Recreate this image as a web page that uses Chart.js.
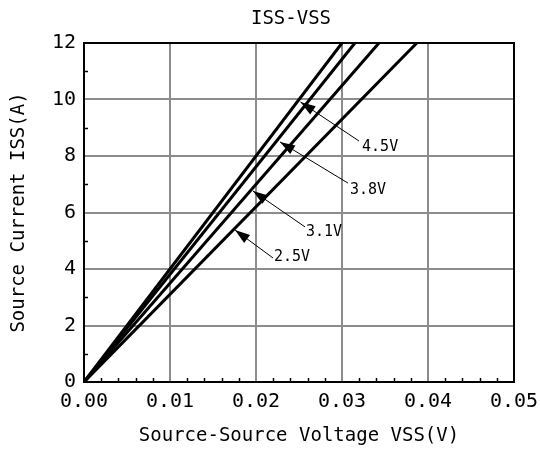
<!DOCTYPE html>
<html>
<head>
<meta charset="utf-8">
<script src="https://cdn.jsdelivr.net/npm/chart.js@4"></script>
<style>
  html, body { margin: 0; padding: 0; background: #fff; }
  #wrap { width: 540px; height: 451px; }
</style>
</head>
<body>
<div id="wrap"><canvas id="chart" width="540" height="451"></canvas></div>
<script>
// data (ISS in A, VSS in V)
const seriesLabels = ['4.5V', '3.8V', '3.1V', '2.5V'];
const issValues = [0, 12];
const vss45 = [0, 0.0300];
const vss38 = [0, 0.0315];
const vss31 = [0, 0.0343];
const vss25 = [0, 0.0387];

const xTicks = [0, 0.01, 0.02, 0.03, 0.04, 0.05];
const yTicks = [0, 2, 4, 6, 8, 10, 12];

// label arrows: tip on the curve, tail at the text (data coordinates)
const arrowTips  = [[0.02517, 9.91], [0.02279, 8.50], [0.01965, 6.76], [0.01756, 5.38]];
const arrowTails = [[0.03198, 8.53], [0.03070, 7.04], [0.02570, 5.49], [0.02198, 4.39]];
const labelPos   = [[0.03233, 8.30], [0.03093, 6.81], [0.02581, 5.31], [0.02209, 4.42]];

const FONT = '"DejaVu Sans Mono", "Liberation Mono", monospace';

function pts(xs) {
  return xs.map((x, i) => ({ x: x, y: issValues[i] }));
}

const allVss = [vss45, vss38, vss31, vss25];
const datasets = allVss.map((v, i) => ({
  label: seriesLabels[i],
  data: pts(v),
  borderColor: '#000',
  borderWidth: 3,
  pointRadius: 0,
  fill: false,
  tension: 0
}));

// frame, minor ticks, title and arrow labels
const decor = {
  id: 'decor',
  afterDatasetsDraw(chart) {
    const ctx = chart.ctx;
    const a = chart.chartArea;
    const xs = chart.scales.x, ys = chart.scales.y;
    ctx.save();

    // minor ticks
    ctx.strokeStyle = '#000';
    ctx.lineWidth = 1.5;
    ctx.beginPath();
    for (let k = 1; k < 25; k++) {
      if (k % 5 === 0) continue;
      const px = Math.round(xs.getPixelForValue(k * 0.002)) + 0.5;
      ctx.moveTo(px, a.bottom);
      ctx.lineTo(px, a.bottom - 4);
    }
    for (let k = 1; k < 12; k += 2) {
      const py = Math.round(ys.getPixelForValue(k)) + 0.5;
      ctx.moveTo(a.left, py);
      ctx.lineTo(a.left + 4, py);
    }
    ctx.stroke();

    // frame
    ctx.lineWidth = 2;
    ctx.strokeRect(a.left, a.top, a.right - a.left, a.bottom - a.top);

    // arrows
    ctx.fillStyle = '#000';
    ctx.lineWidth = 1;
    arrowTips.forEach((t, i) => {
      const tx = xs.getPixelForValue(t[0]), ty = ys.getPixelForValue(t[1]);
      const bx = xs.getPixelForValue(arrowTails[i][0]), by = ys.getPixelForValue(arrowTails[i][1]);
      const ang = Math.atan2(by - ty, bx - tx);
      ctx.beginPath();
      ctx.moveTo(bx, by);
      ctx.lineTo(tx, ty);
      ctx.stroke();
      const len = 15, hw = 5;
      const cx = tx + Math.cos(ang) * len, cy = ty + Math.sin(ang) * len;
      ctx.beginPath();
      ctx.moveTo(tx, ty);
      ctx.lineTo(cx - Math.sin(ang) * hw, cy + Math.cos(ang) * hw);
      ctx.lineTo(cx + Math.sin(ang) * hw, cy - Math.cos(ang) * hw);
      ctx.closePath();
      ctx.fill();

      ctx.font = '15px ' + FONT;
      ctx.textAlign = 'left';
      ctx.textBaseline = 'middle';
      ctx.fillText(seriesLabels[i], xs.getPixelForValue(labelPos[i][0]), ys.getPixelForValue(labelPos[i][1]));
    });

    // title
    ctx.font = '19px ' + FONT;
    ctx.textAlign = 'center';
    ctx.textBaseline = 'middle';
    ctx.fillText('ISS-VSS', (a.left + a.right) / 2 - 8, 19);
    ctx.restore();
  }
};

new Chart(document.getElementById('chart'), {
  type: 'line',
  data: { datasets: datasets },
  options: {
    responsive: false,
    animation: false,
    layout: { padding: { top: 43, right: 26, left: 0, bottom: 0 } },
    plugins: { legend: { display: false }, tooltip: { enabled: false }, title: { display: false } },
    scales: {
      x: {
        type: 'linear',
        min: 0, max: 0.05,
        afterBuildTicks: s => { s.ticks = xTicks.map(v => ({ value: v })); },
        afterFit: s => { s.height = 69; s.paddingRight = 0; s.paddingLeft = 0; },
        ticks: {
          color: '#000',
          font: { family: FONT, size: 20 },
          padding: 8,
          maxRotation: 0,
          callback: v => v.toFixed(2)
        },
        grid: { color: '#8c8c8c', lineWidth: 2, drawTicks: false },
        border: { display: true, color: '#000', width: 2 },
        title: {
          display: true,
          text: 'Source-Source Voltage VSS(V)',
          color: '#000',
          font: { family: FONT, size: 19 },
          padding: { top: 6, bottom: 4 }
        }
      },
      y: {
        type: 'linear',
        min: 0, max: 12,
        afterBuildTicks: s => { s.ticks = yTicks.map(v => ({ value: v })); },
        afterFit: s => { s.width = 84; s.paddingTop = 0; s.paddingBottom = 0; },
        ticks: {
          color: '#000',
          font: { family: FONT, size: 20 },
          padding: 8
        },
        grid: { color: '#8c8c8c', lineWidth: 2, drawTicks: false },
        border: { display: true, color: '#000', width: 2 },
        title: {
          display: true,
          text: 'Source Current ISS(A)',
          color: '#000',
          font: { family: FONT, size: 19 },
          padding: { top: 8, bottom: 4 }
        }
      }
    }
  },
  plugins: [decor]
});
</script>
</body>
</html>
